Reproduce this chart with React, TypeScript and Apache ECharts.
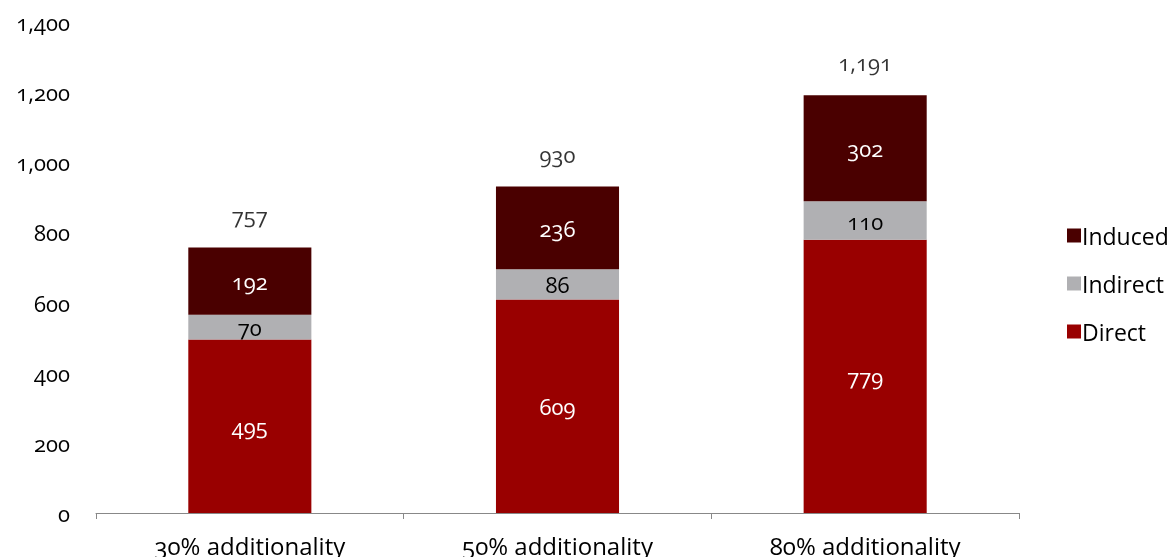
import React, { useEffect, useRef } from "react";
import * as echarts from "echarts";

const categories = ["30% additionality", "50% additionality", "80% additionality"];
const direct = [495, 609, 779];
const indirect = [70, 86, 110];
const induced = [192, 236, 302];
const totals = [757, 930, 1191];
const yTicks = { min: 0, max: 1400, interval: 200 };

const FONT = "'Open Sans', sans-serif";

export default function App() {
  const ref = useRef<HTMLDivElement>(null);
  useEffect(() => {
    if (!ref.current) return;
    const chart = echarts.init(ref.current, null, { renderer: "svg" });
    const labelBase = { show: true, position: "inside", fontFamily: FONT, fontSize: 22 };
    chart.setOption({
      animation: false,
      textStyle: { fontFamily: FONT },
      grid: { left: 96, right: 153, top: 22, bottom: 44, containLabel: false },
      legend: {
        orient: "vertical",
        left: 1062,
        top: 219,
        itemWidth: 14,
        itemHeight: 14,
        itemGap: 25,
        icon: "rect",
        data: ["Induced", "Indirect", "Direct"],
        textStyle: { fontFamily: FONT, fontSize: 23, color: "#000", padding: [0, 0, 0, -4] },
      },
      xAxis: {
        type: "category",
        data: categories,
        axisLine: { show: true, lineStyle: { color: "#888", width: 1 } },
        axisTick: { show: true, length: 6, lineStyle: { color: "#888" } },
        axisLabel: { fontFamily: FONT, fontSize: 24, color: "#000", margin: 20 },
      },
      yAxis: {
        type: "value",
        min: yTicks.min,
        max: yTicks.max,
        interval: yTicks.interval,
        axisLine: { show: false },
        axisTick: { show: false },
        splitLine: { show: false },
        axisLabel: {
          fontFamily: FONT,
          fontSize: 22,
          color: "#000",
          margin: 26,
          formatter: (v: number) => v.toLocaleString("en-US"),
        },
      },
      series: [
        {
          name: "Direct",
          type: "bar",
          stack: "t",
          barWidth: "40%",
          data: direct,
          itemStyle: { color: "#990000" },
          label: { ...labelBase, color: "#fff" },
        },
        {
          name: "Indirect",
          type: "bar",
          stack: "t",
          data: indirect,
          itemStyle: { color: "#B0B0B3" },
          label: { ...labelBase, color: "#000" },
        },
        {
          name: "Induced",
          type: "bar",
          stack: "t",
          data: induced,
          itemStyle: { color: "#4A0000" },
          label: { ...labelBase, color: "#fff" },
        },
        {
          name: "Total",
          type: "scatter",
          data: totals,
          symbolSize: 0,
          silent: true,
          label: {
            show: true,
            position: "top",
            distance: 22,
            fontFamily: FONT,
            fontSize: 22,
            color: "#000",
            formatter: (p: any) => Number(p.value).toLocaleString("en-US"),
          },
        },
      ],
    });
    return () => chart.dispose();
  }, []);
  return (
    <div
      ref={ref}
      style={{
        position: "fixed",
        left: 0,
        top: 0,
        width: 1172,
        height: 557,
        overflow: "hidden",
        fontVariantNumeric: "oldstyle-nums",
      }}
    />
  );
}
